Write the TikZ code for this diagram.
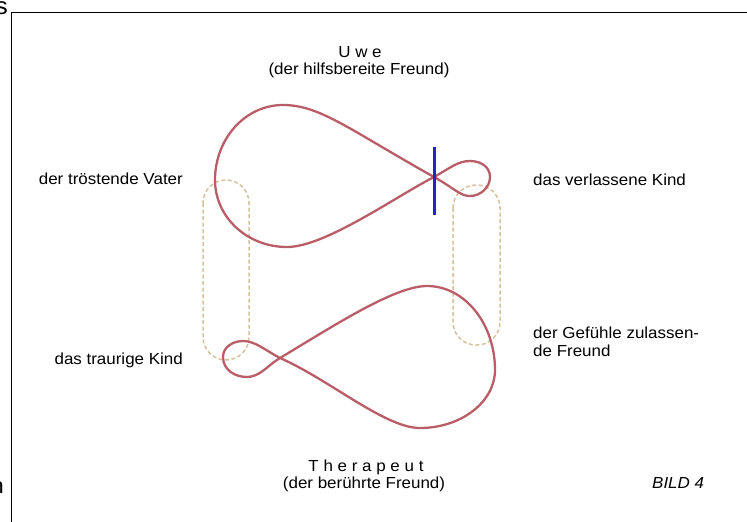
\documentclass[tikz,border=0pt]{standalone}
\usepackage{fontspec}
\setmainfont{Liberation Sans}[FakeStretch=1.06]
\definecolor{loopred}{RGB}{185,94,104}
\definecolor{pilltan}{RGB}{212,193,158}
\definecolor{markblue}{RGB}{35,35,205}
\begin{document}
\begin{tikzpicture}[x=1pt,y=-1pt,
  loopline/.style={draw=loopred,line width=2.3pt},
  pill/.style={draw=pilltan,line width=1.5pt,dash pattern=on 4pt off 2.5pt,rounded corners=23pt},
  every node/.style={inner sep=0pt,font=\fontsize{16}{18}\selectfont}]
\useasboundingbox (0,0) rectangle (747,522);
% frame and cut-off letters
\draw[line width=1.2pt] (747,12.5) -- (11.5,12.5) -- (11.5,522);
\node[anchor=base east,font=\fontsize{24}{26}\selectfont] (cuts) at (8,14) {s};
\node[anchor=base east,font=\fontsize{22}{24}\selectfont] (cutn) at (4,493) {n};
% dashed pills
\draw[pill] (203,180) rectangle (249,360);
\draw[pill] (453,185) rectangle (500,345);
% upper loop
\coordinate (up) at (434,177);
\draw[loopline] (up) .. controls (350,130) and (320,105) .. (283,105)
  .. controls (245,105) and (215,139) .. (215,180)
  .. controls (215,217) and (247,247) .. (287,247)
  .. controls (325,247) and (395,197) .. (up)
  .. controls (454,188) and (460,196) .. (470,196)
  .. controls (481,196) and (490,187) .. (490,177)
  .. controls (490,167) and (481,161) .. (470,161)
  .. controls (458,161) and (450,168) .. (up);
\draw[draw=markblue,line width=3pt] (434,147) -- (434,215);
% lower loop
\coordinate (low) at (280,358);
\draw[loopline] (low) .. controls (335,325) and (395,286) .. (427,286)
  .. controls (465,286) and (495,324) .. (495,370)
  .. controls (495,402) and (461,428) .. (420,428)
  .. controls (385,428) and (330,380) .. (low)
  .. controls (265,350) and (255,341) .. (243,341)
  .. controls (233,341) and (223,347) .. (223,357)
  .. controls (223,370) and (235,377) .. (247,377)
  .. controls (260,377) and (268,365) .. (low);
% labels
\node[anchor=base] (uwe) at (360,57) {U w e};
\node[anchor=base] (uwerole) at (359,74) {(der hilfsbereite Freund)};
\node[anchor=base] (thera) at (366,471) {T h e r a p e u t};
\node[anchor=base] (therarole) at (364,488) {(der berührte Freund)};
\node[anchor=base west,font=\fontsize{16}{18}\selectfont\itshape] (bild) at (652,488) {BILD 4};
\node[anchor=base east] (vater) at (183,184) {der tröstende Vater};
\node[anchor=base east] (trkind) at (183,364) {das traurige Kind};
\node[anchor=base west] (vkind) at (533,185) {das verlassene Kind};
\node[anchor=base west,align=left] (gefuehl) at (533,356) {der Gefühle zulassen-\\de Freund};
\end{tikzpicture}
\end{document}
